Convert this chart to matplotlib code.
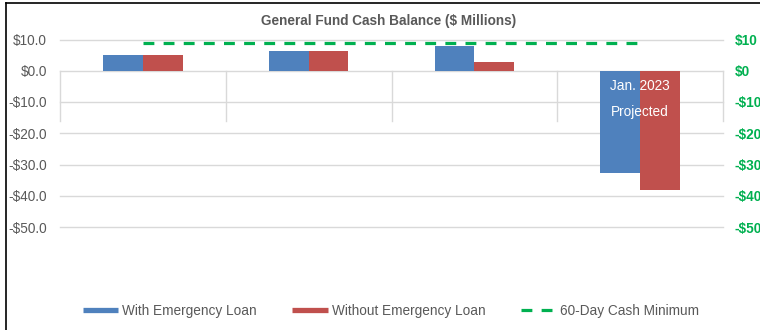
import matplotlib
matplotlib.use("Agg")
import matplotlib.pyplot as plt
from matplotlib.lines import Line2D
import numpy as np

plt.rcParams['font.family'] = ['Liberation Sans', 'DejaVu Sans']

# Data
categories = ["", "", "", ""]
with_loan = [4.9, 6.4, 7.8, -32.8]
without_loan = [4.9, 6.4, 2.8, -38.0]
cash_minimum = [9.0, 9.0, 9.0, 9.0]
left_ticks = [10, 0, -10, -20, -30, -40, -50]
left_labels = ["$10.0", "$0.0", "-$10.0", "-$20.0", "-$30.0", "-$40.0", "-$50.0"]
right_labels = ["$10", "$0", "-$10", "-$20", "-$30", "-$40", "-$50"]
title = "General Fund Cash Balance ($ Millions)"
series_names = ["With Emergency Loan", "Without Emergency Loan", "60-Day Cash Minimum"]
annotation = ["Jan. 2023", "Projected"]

BLUE = "#4F81BD"
RED = "#C0504D"
GREEN = "#00B050"
GRID = "#D9D9D9"
TXT = "#595959"

W, H = 760, 330
fig = plt.figure(figsize=(7.6, 3.3), dpi=100)
L, R, T, B = 60, 723, 39.5, 227
ax = fig.add_axes([L / W, 1 - B / H, (R - L) / W, (B - T) / H])

x = np.arange(len(categories))
bw = 0.24
ax.bar(x - bw / 2, with_loan, bw, color=BLUE, zorder=3)
ax.bar(x + bw / 2, without_loan, bw, color=RED, zorder=3)

ax.set_xlim(-0.5, len(categories) - 0.5)
ax.set_ylim(-50, 10)
ax.set_yticks(left_ticks)
ax.set_yticklabels(left_labels, fontsize=9.8, color=TXT)
ax.set_xticks([])
ax.tick_params(axis='y', length=0, pad=9.4)
for s in ax.spines.values():
    s.set_visible(False)
for v in left_ticks:
    ax.axhline(v, color=GRID, lw=1.0, zorder=1, clip_on=False)
for b in np.arange(-0.5, len(categories), 1.0):
    ax.plot([b, b], [-16, 0], color=GRID, lw=1.0, zorder=1, clip_on=False)

ax.text(3, -4.8, annotation[0], color="white", fontsize=9.8, ha="center", va="center", zorder=5)
ax.text(3, -13.3, annotation[1], color="white", fontsize=9.8, ha="center", va="center", zorder=5)

ax2 = ax.twinx()
ax2.set_ylim(-50, 10)
ax2.set_yticks(left_ticks)
ax2.set_yticklabels(right_labels, fontsize=9.8, color=GREEN, fontweight="bold")
ax2.tick_params(axis='y', length=0, pad=8.6)
for s in ax2.spines.values():
    s.set_visible(False)
ax2.plot(x, cash_minimum, color=GREEN, lw=2.3, linestyle=(0, (3.4, 2.9)), zorder=4)

fig.text(389 / W, 1 - 21 / H, title, ha="center", va="center", fontsize=9.8,
         fontweight="bold", color=TXT)

handles = [
    Line2D([], [], color=BLUE, lw=3.8, solid_capstyle="butt"),
    Line2D([], [], color=RED, lw=3.8, solid_capstyle="butt"),
    Line2D([], [], color=GREEN, lw=2.3, linestyle=(0, (3.4, 2.9))),
]
fig.legend(handles, series_names, loc="center", bbox_to_anchor=(391 / W, 1 - 311 / H),
           ncol=3, frameon=False, fontsize=9.8, handlelength=2.6, handletextpad=0.3,
           columnspacing=2.6, labelcolor=TXT)

# outer frame (left and top edges visible)
fig.add_artist(Line2D([6 / W, 6 / W], [0, 1 - 2.5 / H], color="black", lw=1.2,
                      transform=fig.transFigure))
fig.add_artist(Line2D([6 / W, 1], [1 - 2.5 / H, 1 - 2.5 / H], color="black", lw=1.2,
                      transform=fig.transFigure))

fig.savefig("out.png", dpi=100)
